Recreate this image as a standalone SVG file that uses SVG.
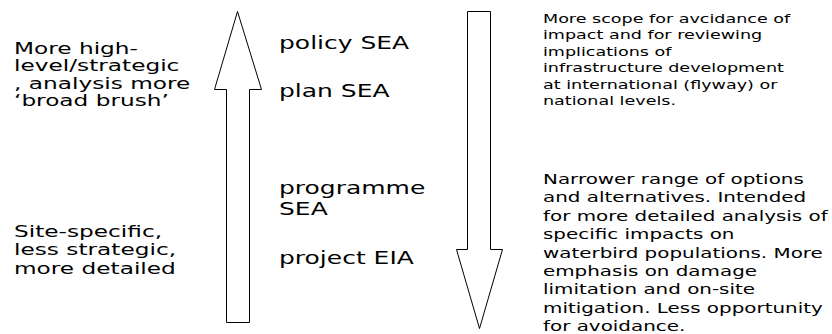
<svg xmlns="http://www.w3.org/2000/svg" width="832" height="334" viewBox="0 0 832 334">
<style>
.t{font-family:"DejaVu Sans","Liberation Sans",sans-serif;fill:#000}
.l{font-size:15.8px}
.m{font-size:17px}
.r1{font-size:12px}
.r2{font-size:13.5px}
.arr{fill:#fff;stroke:#000;stroke-width:1}
</style>
<rect width="832" height="334" fill="#fff"/>
<g id="connectors">
<polygon id="up-arrow" class="arr" points="237.5,11.5 261.5,89.5 249.5,89.5 249.5,322.5 226.5,322.5 226.5,89.5 214.5,89.5"/>
<polygon id="down-arrow" class="arr" points="467.5,11.5 490.5,11.5 490.5,249.5 502.5,249.5 479.5,328.5 456.5,249.5 467.5,249.5"/>
</g>
<g id="left-top" transform="translate(14,0) scale(1.47,1)">
<text class="t l" x="0" y="54">More high-</text>
<text class="t l" x="0" y="71.5">level/strategic</text>
<text class="t l" x="0" y="89">, analysis more</text>
<text class="t l" x="0" y="106.5">‘broad brush’</text>
</g>
<g id="left-bottom" transform="translate(14,0) scale(1.47,1)">
<text class="t l" x="0" y="237">Site-specific,</text>
<text class="t l" x="0" y="255.5">less strategic,</text>
<text class="t l" x="0" y="274">more detailed</text>
</g>
<g id="policy-sea" transform="translate(279,0) scale(1.47,1)"><text class="t m" x="0" y="49">policy SEA</text></g>
<g id="plan-sea" transform="translate(279,0) scale(1.47,1)"><text class="t m" x="0" y="97.5">plan SEA</text></g>
<g id="programme-sea" transform="translate(279,0) scale(1.47,1)"><text class="t m" x="0" y="194">programme</text><text class="t m" x="0" y="215">SEA</text></g>
<g id="project-eia" transform="translate(279,0) scale(1.47,1)"><text class="t m" x="0" y="264">project EIA</text></g>
<g id="right-top" transform="translate(543,0) scale(1.463,1)">
<text class="t r1" x="0" y="23">More scope for avcidance of</text>
<text class="t r1" x="0" y="39.5">impact and for reviewing</text>
<text class="t r1" x="0" y="56">implications of</text>
<text class="t r1" x="0" y="72.5">infrastructure development</text>
<text class="t r1" x="0" y="89">at international (flyway) or</text>
<text class="t r1" x="0" y="105.5">national levels.</text>
</g>
<g id="right-bottom" transform="translate(543,0) scale(1.474,1)">
<text class="t r2" x="0" y="184">Narrower range of options</text>
<text class="t r2" x="0" y="202.4">and alternatives. Intended</text>
<text class="t r2" x="0" y="220.8">for more detailed analysis of</text>
<text class="t r2" x="0" y="239.2">specific impacts on</text>
<text class="t r2" x="0" y="257.6">waterbird populations. More</text>
<text class="t r2" x="0" y="276">emphasis on damage</text>
<text class="t r2" x="0" y="294.4">limitation and on-site</text>
<text class="t r2" x="0" y="312.8">mitigation. Less opportunity</text>
<text class="t r2" x="0" y="331.2">for avoidance.</text>
</g>
</svg>
